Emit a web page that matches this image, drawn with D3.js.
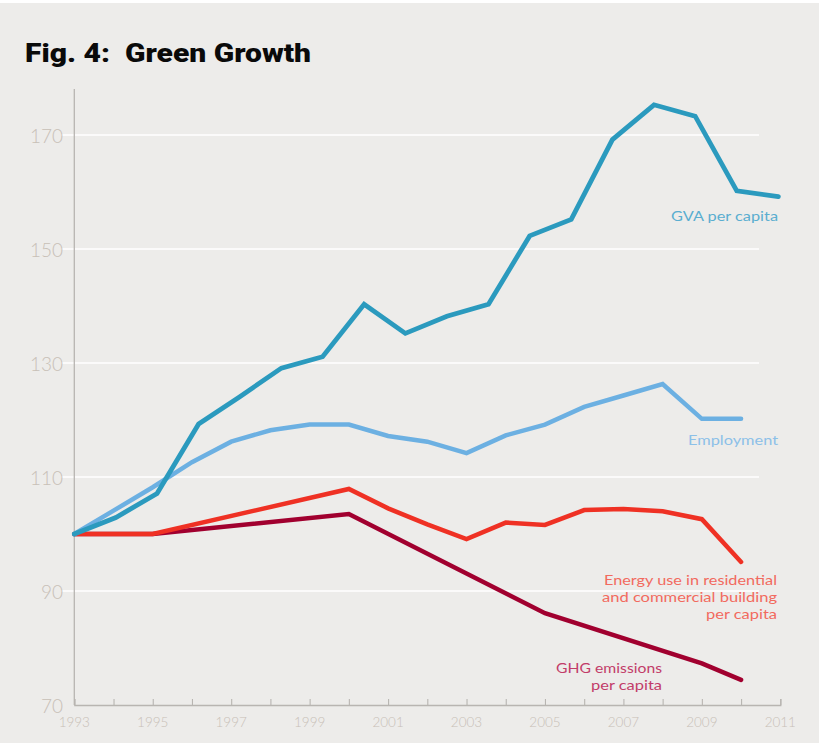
<!DOCTYPE html>
<html>
<head>
<meta charset="utf-8">
<script src="https://cdn.jsdelivr.net/npm/d3@7"></script>
<style>
  html, body { margin: 0; padding: 0; background: #ffffff; }
  svg { display: block; }
</style>
</head>
<body>
<svg id="chart" width="819" height="743"></svg>
<script>
// ---- Data ----
const yTicks = [70, 90, 110, 130, 150, 170];
const gridValues = [90, 110, 130, 150, 170];
const xTickYears = [1993,1994,1995,1996,1997,1998,1999,2000,2001,2002,2003,2004,2005,2006,2007,2008,2009,2010,2011];
const xLabelYears = [1993,1995,1997,1999,2001,2003,2005,2007,2009,2011];

// GVA per capita (points are plotted slightly stretched in the original)
const gvaYears = [1993, 1994.06, 1995.11, 1996.17, 1997.22, 1998.28, 1999.33, 2000.39, 2001.44, 2002.5, 2003.56, 2004.61, 2005.67, 2006.72, 2007.78, 2008.83, 2009.89, 2010.95];
const gvaValues = [100, 102.9, 107.1, 119.3, 124.1, 129.1, 131.1, 140.3, 135.2, 138.2, 140.3, 152.3, 155.2, 169.2, 175.3, 173.3, 160.2, 159.2];

const empYears = [1993,1994,1995,1996,1997,1998,1999,2000,2001,2002,2003,2004,2005,2006,2007,2008,2009,2010];
const empValues = [100, 104.1, 108.2, 112.6, 116.2, 118.2, 119.2, 119.2, 117.2, 116.2, 114.2, 117.3, 119.2, 122.3, 124.3, 126.3, 120.2, 120.2];

const energyYears = [1993,1994,1995,2000,2001,2002,2003,2004,2005,2006,2007,2008,2009,2010];
const energyValues = [100, 100, 100, 107.9, 104.5, 101.7, 99.1, 102.0, 101.6, 104.2, 104.4, 104.0, 102.6, 95.1];

const ghgYears = [1993, 1995, 2000, 2005, 2009, 2010];
const ghgValues = [100, 100, 103.5, 86.1, 77.3, 74.4];

const seriesNames = ["GVA per capita", "Employment", "Energy use in residential|and commercial building|per capita", "GHG emissions|per capita"];

// ---- Layout ----
const svg = d3.select("#chart");
const W = 819, H = 743;
const x = d3.scaleLinear().domain([1993, 2011]).range([74.3, 780.3]);
const y = d3.scaleLinear().domain([70, 170]).range([705, 135]);

svg.append("rect").attr("x", 0).attr("y", 3).attr("width", W).attr("height", H - 3).attr("fill", "#edecea");

// Title
svg.append("text")
  .attr("x", 25).attr("y", 62)
  .attr("font-family", "Roboto, 'Liberation Sans', sans-serif")
  .attr("font-weight", 900)
  .attr("font-size", 26)
  .attr("fill", "#0a0a0a")
  .attr("xml:space", "preserve")
  .attr("textLength", 286)
  .attr("lengthAdjust", "spacingAndGlyphs")
  .text("Fig. 4:  Green Growth");

// Gridlines
svg.append("g").selectAll("line").data(gridValues).join("line")
  .attr("x1", 61).attr("x2", 759)
  .attr("y1", d => y(d)).attr("y2", d => y(d))
  .attr("stroke", "#ffffff").attr("stroke-width", 1.6);

// Y axis line
svg.append("line")
  .attr("x1", x(1993)).attr("x2", x(1993))
  .attr("y1", 89).attr("y2", y(70))
  .attr("stroke", "#b8b5b1").attr("stroke-width", 1.3);

// Y labels
svg.append("g").selectAll("text").data(yTicks).join("text")
  .attr("x", 63).attr("y", d => y(d))
  .attr("dy", "0.42em")
  .attr("text-anchor", "end")
  .attr("font-family", "Lato, sans-serif")
  .attr("font-weight", 300)
  .attr("font-size", 19)
  .attr("fill", "#c8c0b7")
  .text(d => d);

// X axis
const xAxis = d3.axisBottom(x)
  .tickValues(xTickYears)
  .tickSize(-6)
  .tickFormat("");
const gx = svg.append("g").attr("transform", `translate(0,${y(70)})`).call(xAxis);
gx.select(".domain").attr("stroke", "#b8b5b1").attr("stroke-width", 1.3);
gx.selectAll(".tick line").attr("stroke", "#b8b5b1").attr("stroke-width", 1.1);

svg.append("g").selectAll("text").data(xLabelYears).join("text")
  .attr("x", d => x(d)).attr("y", 722)
  .attr("dy", "0.35em")
  .attr("text-anchor", "middle")
  .attr("font-family", "Lato, sans-serif")
  .attr("font-weight", 300)
  .attr("font-size", 13.5)
  .attr("fill", "#c8c0b7")
  .text(d => d);

// Lines
const line = d3.line().x(d => x(d[0])).y(d => y(d[1]));
function drawSeries(years, values, color, width) {
  svg.append("path")
    .datum(years.map((yr, i) => [yr, values[i]]))
    .attr("d", line)
    .attr("fill", "none")
    .attr("stroke", color)
    .attr("stroke-width", width)
    .attr("stroke-linejoin", "miter")
    .attr("stroke-linecap", "round");
}
drawSeries(ghgYears, ghgValues, "#a1002f", 4.5);
drawSeries(energyYears, energyValues, "#ef3124", 4.5);
drawSeries(empYears, empValues, "#6cb0e2", 4.5);
drawSeries(gvaYears, gvaValues, "#2b9abe", 4.8);

// Series labels
function label(text, widths, xr, yc, color) {
  const lines = text.split("|");
  lines.forEach((s, i) => {
    svg.append("text")
      .attr("x", xr).attr("y", yc + i * 16.7).attr("dy", "0.35em")
      .attr("text-anchor", "end")
      .attr("font-family", "Lato, sans-serif")
      .attr("font-size", 13.6)
      .attr("fill", color)
      .attr("textLength", widths[i])
      .attr("lengthAdjust", "spacingAndGlyphs")
      .text(s);
  });
}
label(seriesNames[0], [107], 778, 216, "#5aaed0");
label(seriesNames[1], [90], 778, 440, "#8cc0e8");
label(seriesNames[2], [173, 175, 71], 777, 580.7, "#f26a5e");
label(seriesNames[3], [106, 71], 662, 668.3, "#c23c69");
</script>
</body>
</html>
